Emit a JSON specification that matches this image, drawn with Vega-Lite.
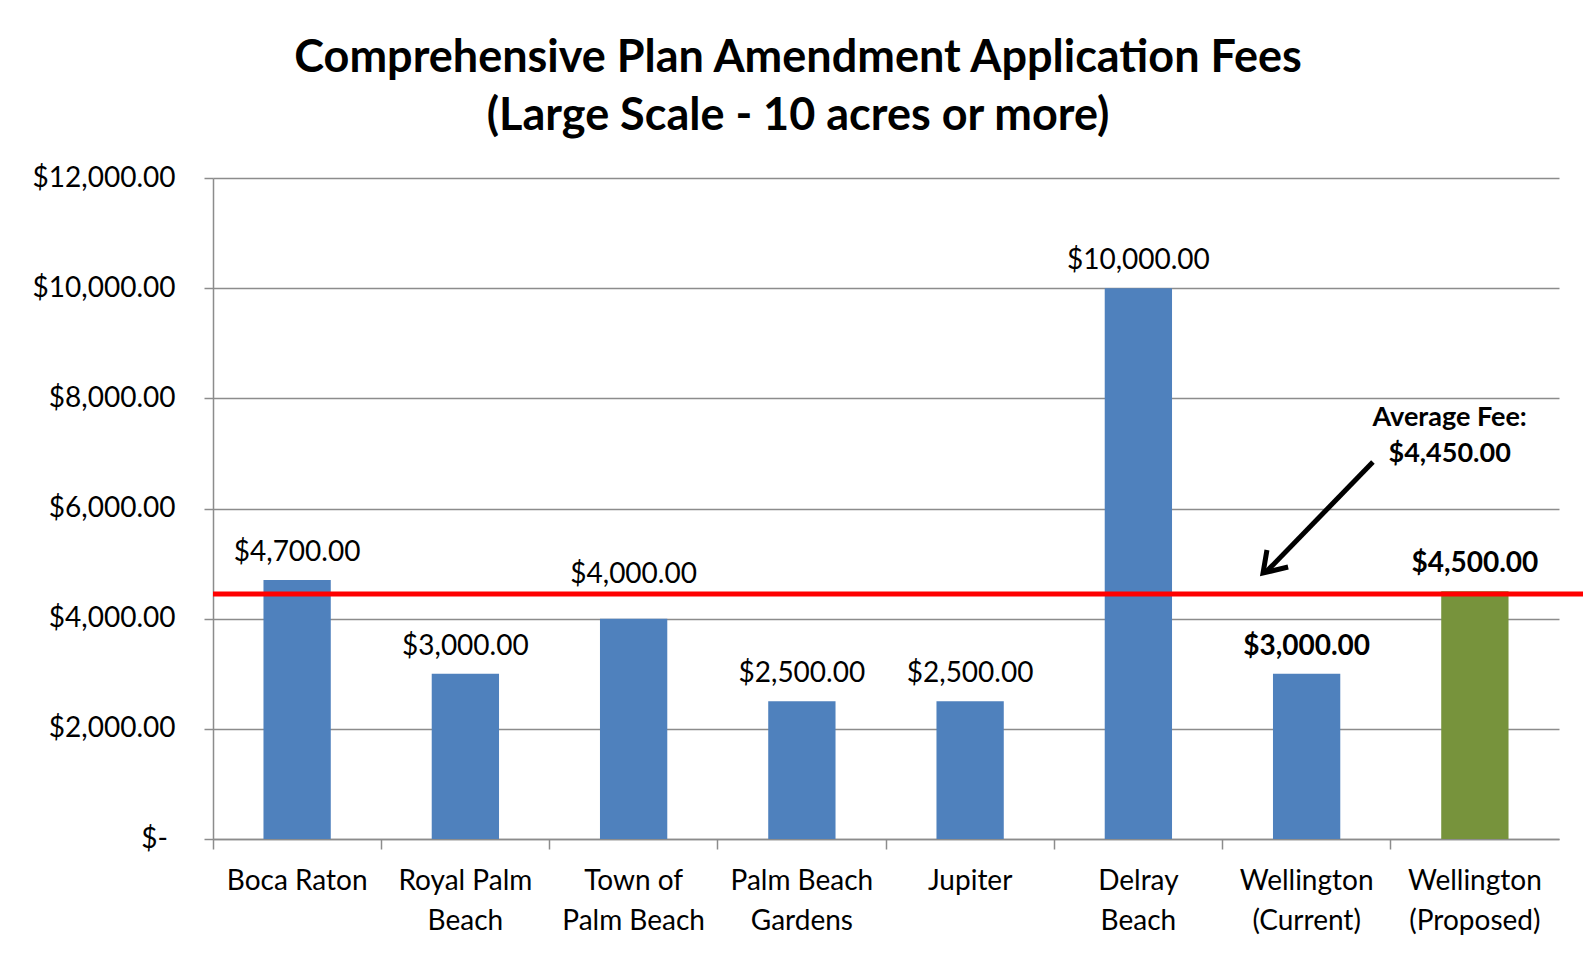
{
  "$schema": "https://vega.github.io/schema/vega-lite/v6.json",
  "width": 1346,
  "height": 661,
  "autosize": {"type": "none"},
  "padding": {"left": 213, "top": 178, "right": 24, "bottom": 114},
  "background": "white",
  "config": {"font": "Lato", "view": {"stroke": null}},
  "title": {
    "text": ["Comprehensive Plan Amendment  Application Fees", "(Large Scale - 10 acres or more)"],
    "fontSize": 45,
    "fontWeight": "bold",
    "color": "black",
    "anchor": "middle",
    "frame": "group",
    "dx": -88,
    "offset": 25,
    "lineHeight": 58
  },
  "datasets": {
    "fees": [
      {"city": "Boca Raton", "fee": 4700, "status": "Other"},
      {"city": "Royal Palm Beach", "fee": 3000, "status": "Other"},
      {"city": "Town of Palm Beach", "fee": 4000, "status": "Other"},
      {"city": "Palm Beach Gardens", "fee": 2500, "status": "Other"},
      {"city": "Jupiter", "fee": 2500, "status": "Other"},
      {"city": "Delray Beach", "fee": 10000, "status": "Other"},
      {"city": "Wellington (Current)", "fee": 3000, "status": "Current"},
      {"city": "Wellington (Proposed)", "fee": 4500, "status": "Proposed"}
    ],
    "average": [{"label": "Average Fee", "fee": 4450}]
  },
  "layer": [
    {
      "data": {"name": "fees"},
      "encoding": {
        "x": {
          "field": "city",
          "type": "nominal",
          "sort": null,
          "scale": {"type": "band", "paddingInner": 0.6, "paddingOuter": 0.3},
          "axis": {
            "title": null,
            "labelAngle": 0,
            "labelExpr": "datum.label == 'Royal Palm Beach' ? ['Royal Palm', 'Beach'] : datum.label == 'Town of Palm Beach' ? ['Town of', 'Palm Beach'] : datum.label == 'Palm Beach Gardens' ? ['Palm Beach', 'Gardens'] : datum.label == 'Delray Beach' ? ['Delray', 'Beach'] : datum.label == 'Wellington (Current)' ? ['Wellington', '(Current)'] : datum.label == 'Wellington (Proposed)' ? ['Wellington', '(Proposed)'] : datum.label",
            "labelFontSize": 28,
            "labelColor": "black",
            "labelLineHeight": 40,
            "labelPadding": 18,
            "labelLimit": 240,
            "labelBaseline": "top",
            "bandPosition": -0.75,
            "ticks": true,
            "tickSize": 10,
            "tickColor": "#8c8c8c",
            "tickWidth": 1.5,
            "domainColor": "#8c8c8c",
            "domainWidth": 1.5
          }
        },
        "y": {
          "field": "fee",
          "type": "quantitative",
          "scale": {"domain": [0, 12000], "nice": false},
          "axis": {
            "title": null,
            "values": [0, 2000, 4000, 6000, 8000, 10000, 12000],
            "labelExpr": "datum.value == 0 ? '$-\u2800\u2800' : format(datum.value, '$,.2f')",
            "labelAlign": {"condition": {"test": "datum.value == 0", "value": "center"}, "value": "right"},
            "labelFontSize": 28,
            "labelColor": "black",
            "labelPadding": 29,
            "grid": true,
            "gridColor": "#8c8c8c",
            "gridWidth": 1.5,
            "tickSize": 9,
            "tickColor": "#8c8c8c",
            "tickWidth": 1.5,
            "domainColor": "#8c8c8c",
            "domainWidth": 1.5
          }
        }
      },
      "layer": [
        {
          "mark": {"type": "bar"},
          "encoding": {
            "color": {
              "field": "status",
              "type": "nominal",
              "scale": {"domain": ["Other", "Current", "Proposed"], "range": ["#4f81bd", "#4f81bd", "#77933c"]},
              "legend": null
            }
          }
        },
        {
          "transform": [{"filter": "indexof(datum.city, 'Wellington') != 0 && datum.city != 'Town of Palm Beach'"}],
          "mark": {"type": "text", "fontSize": 28, "baseline": "middle", "dy": -27, "color": "black"},
          "encoding": {"text": {"field": "fee", "type": "quantitative", "format": "$,.2f"}}
        },
        {
          "transform": [{"filter": "datum.city == 'Town of Palm Beach'"}],
          "mark": {"type": "text", "fontSize": 28, "baseline": "middle", "dy": -44, "color": "black"},
          "encoding": {"text": {"field": "fee", "type": "quantitative", "format": "$,.2f"}}
        },
        {
          "transform": [{"filter": "indexof(datum.city, 'Wellington') == 0"}],
          "mark": {"type": "text", "fontSize": 28, "fontWeight": "bold", "baseline": "middle", "dy": -27, "color": "black"},
          "encoding": {"text": {"field": "fee", "type": "quantitative", "format": "$,.2f"}}
        }
      ]
    },
    {
      "data": {"name": "average"},
      "layer": [
        {
          "mark": {"type": "rule", "color": "#ff0000", "strokeWidth": 5},
          "encoding": {
            "x": {"datum": 0, "type": "quantitative", "scale": {"domain": [0, 8], "nice": false, "zero": false}, "axis": null},
            "x2": {"datum": 8.15},
            "y": {"field": "fee", "type": "quantitative"}
          }
        },
        {
          "mark": {"type": "rule", "color": "black", "strokeWidth": 5},
          "encoding": {
            "x": {"datum": 6.894, "type": "quantitative", "scale": {"domain": [0, 8], "nice": false, "zero": false}, "axis": null},
            "x2": {"datum": 6.26},
            "y": {"datum": 6844, "type": "quantitative"},
            "y2": {"datum": 4850}
          }
        },
        {
          "mark": {"type": "point", "shape": "M0.17,-1L0,0L1.09,-0.26", "filled": false, "stroke": "black", "strokeWidth": 5, "size": 2116, "opacity": 1},
          "encoding": {
            "x": {"datum": 6.241, "type": "quantitative", "scale": {"domain": [0, 8], "nice": false, "zero": false}, "axis": null},
            "y": {"datum": 4829, "type": "quantitative"}
          }
        },
        {
          "mark": {"type": "text", "fontSize": 27, "fontWeight": "bold", "baseline": "middle", "align": "center", "lineHeight": 36, "color": "black"},
          "encoding": {
            "x": {"datum": 7.35, "type": "quantitative", "scale": {"domain": [0, 8], "nice": false, "zero": false}, "axis": null},
            "y": {"datum": 7652, "type": "quantitative"},
            "text": {"value": ["Average Fee:", "$4,450.00"]}
          }
        }
      ]
    }
  ],
  "resolve": {"scale": {"x": "independent"}, "axis": {"x": "independent"}}
}
